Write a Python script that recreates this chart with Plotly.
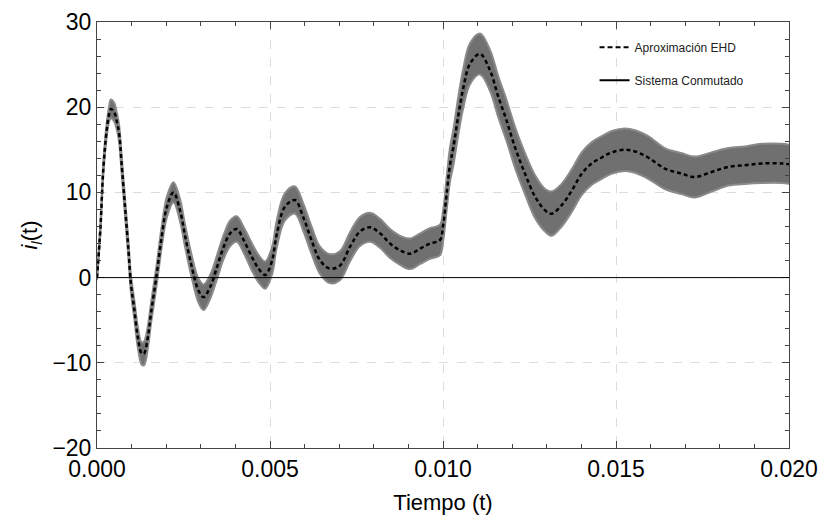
import plotly.graph_objects as go

# time in ms
t_ms = [0, 0.1, 0.18, 0.28, 0.35, 0.4, 0.5, 0.57, 0.64, 0.71, 0.81, 0.91, 0.98, 1.08, 1.18, 1.29,
        1.36, 1.47, 1.56, 1.73, 1.87, 2.02, 2.21, 2.40, 2.55, 2.74, 2.93, 3.08, 3.27, 3.47, 3.66,
        3.85, 4.04, 4.24, 4.48, 4.67, 4.86, 5.06, 5.19, 5.43, 5.72, 5.96, 6.2, 6.45, 6.73, 7.02,
        7.31, 7.6, 7.89, 8.18, 8.47, 8.76, 9.05, 9.34, 9.62, 9.91, 10.0, 10.1, 10.2, 10.3, 10.45,
        10.59, 10.78, 11.07, 11.36, 11.6, 11.84, 12.08, 12.37, 12.66, 12.95, 13.14, 13.43, 13.72,
        14.01, 14.3, 14.59, 14.88, 15.26, 15.55, 15.93, 16.41, 16.9, 17.28, 17.76, 18.25, 18.73,
        19.21, 19.79, 20.0]
ehd_center = [0, 5.9, 12.6, 17.3, 19.2, 19.8, 19.4, 18.4, 16.9, 13.4, 8.3, 3.2, -0.7, -3.8, -7.0, -8.9,
              -8.9, -7.0, -4.2, 0.5, 4.8, 8.3, 10.0, 7.9, 4.8, 1.25, -1.5, -2.3, -1.1, 1.25, 3.6,
              5.2, 5.7, 4.4, 2.4, 1.05, 0.3, 2.0, 5.0, 8.3, 9.1, 7.1, 4.4, 2.0, 1.05, 1.4,
              3.6, 5.4, 5.9, 5.2, 4.0, 3.2, 2.8, 3.4, 4.0, 4.4, 6.0, 9.6, 13.2, 15.3, 19.2,
              22.3, 25.1, 26.25, 24.3, 21.2, 18.4, 15.3, 12.2, 9.5, 7.9, 7.5, 8.5, 10.2,
              12.2, 13.4, 14.1, 14.7, 15.0, 14.8, 14.1, 12.8, 12.2, 11.8, 12.4, 13.0, 13.2,
              13.4, 13.4, 13.3]
ripple_half = [0.3, 0.6, 0.7, 0.8, 0.9, 1.1, 1.1, 1.0, 1.0, 1.0, 1.0, 1.0, 1.0, 1.1, 1.2, 1.3,
               1.4, 1.3, 1.2, 1.2, 1.2, 1.2, 1.2, 1.3, 1.3, 1.3, 1.4, 1.5, 1.4, 1.4, 1.4,
               1.5, 1.5, 1.5, 1.6, 1.6, 1.6, 1.6, 1.6, 1.6, 1.6, 1.6, 1.6, 1.6, 1.7, 1.7,
               1.7, 1.7, 1.7, 1.7, 1.7, 1.7, 1.8, 1.8, 1.8, 1.8, 1.8, 1.9, 2.0, 2.1, 2.2,
               2.3, 2.4, 2.4, 2.4, 2.4, 2.4, 2.4, 2.4, 2.5, 2.5, 2.6, 2.5, 2.5,
               2.5, 2.5, 2.5, 2.5, 2.5, 2.5, 2.5, 2.4, 2.4, 2.4, 2.3, 2.2, 2.2,
               2.3, 2.3, 2.3]

t = [v / 1000 for v in t_ms]
upper = [c + r for c, r in zip(ehd_center, ripple_half)]
lower = [c - r for c, r in zip(ehd_center, ripple_half)]

FONT = "Liberation Sans, Arial, sans-serif"
fig = go.Figure()

# switched system band (gray)
fig.add_trace(go.Scatter(x=t, y=lower, mode="lines", line=dict(color="#8a8a8a", width=2, shape="spline"),
                         showlegend=False, hoverinfo="skip"))
fig.add_trace(go.Scatter(x=t, y=upper, mode="lines", line=dict(color="#8a8a8a", width=2, shape="spline"),
                         fill="tonexty", fillcolor="#707070", showlegend=False, hoverinfo="skip"))
# EHD approximation (dashed black)
fig.add_trace(go.Scatter(x=t, y=ehd_center, mode="lines",
                         line=dict(color="black", width=2.5, dash="4px,3px", shape="spline"),
                         showlegend=False))

# legend entries
fig.add_trace(go.Scatter(x=[None], y=[None], mode="lines", name="Aproximación EHD",
                         line=dict(color="black", width=2, dash="5px,3px"), legendgroup="a"))
fig.add_trace(go.Scatter(x=[None], y=[None], mode="lines", name="Sistema Conmutado",
                         line=dict(color="black", width=2), legendgroup="b"))

axis_common = dict(
    showline=True, linecolor="#444444", linewidth=1, mirror="allticks",
    ticks="inside", ticklen=7, tickcolor="#444444", tickwidth=1,
    showgrid=True, gridcolor="#dcdcdc", griddash="dash", gridwidth=1,
    tickfont=dict(family=FONT, size=23, color="black"),
    zeroline=False, automargin=False,
)

fig.update_xaxes(**axis_common, range=[0, 0.02], tickvals=[0, 0.005, 0.01, 0.015, 0.02],
                 ticktext=["0.000", "0.005", "0.010", "0.015", "0.020"],
                 minor=dict(dtick=0.001, ticks="inside", ticklen=4, tickcolor="#444444", showgrid=False),
                 title=dict(text="Tiempo (t)", font=dict(family=FONT, size=22, color="black"), standoff=14))
fig.update_yaxes(**axis_common, range=[-20, 30], tickvals=[-20, -10, 0, 10, 20, 30],
                 ticktext=["−20", "−10", "0", "10", "20", "30"],
                 minor=dict(dtick=2, ticks="inside", ticklen=4, tickcolor="#444444", showgrid=False),
                 title=dict(text="<i>i</i><sub><i>l</i></sub>(t)", font=dict(family=FONT, size=22, color="black"),
                            standoff=8))

# zero reference line
fig.add_hline(y=0, line=dict(color="black", width=1))

fig.update_layout(
    width=824, height=523,
    margin=dict(l=97, r=35, t=22, b=75),
    plot_bgcolor="white", paper_bgcolor="white",
    legend=dict(x=0.719, y=0.975, xanchor="left", yanchor="top", bgcolor="rgba(0,0,0,0)",
                font=dict(family=FONT, size=12, color="#222222"), tracegroupgap=14, itemwidth=30),
)

fig.write_html("out.html")
